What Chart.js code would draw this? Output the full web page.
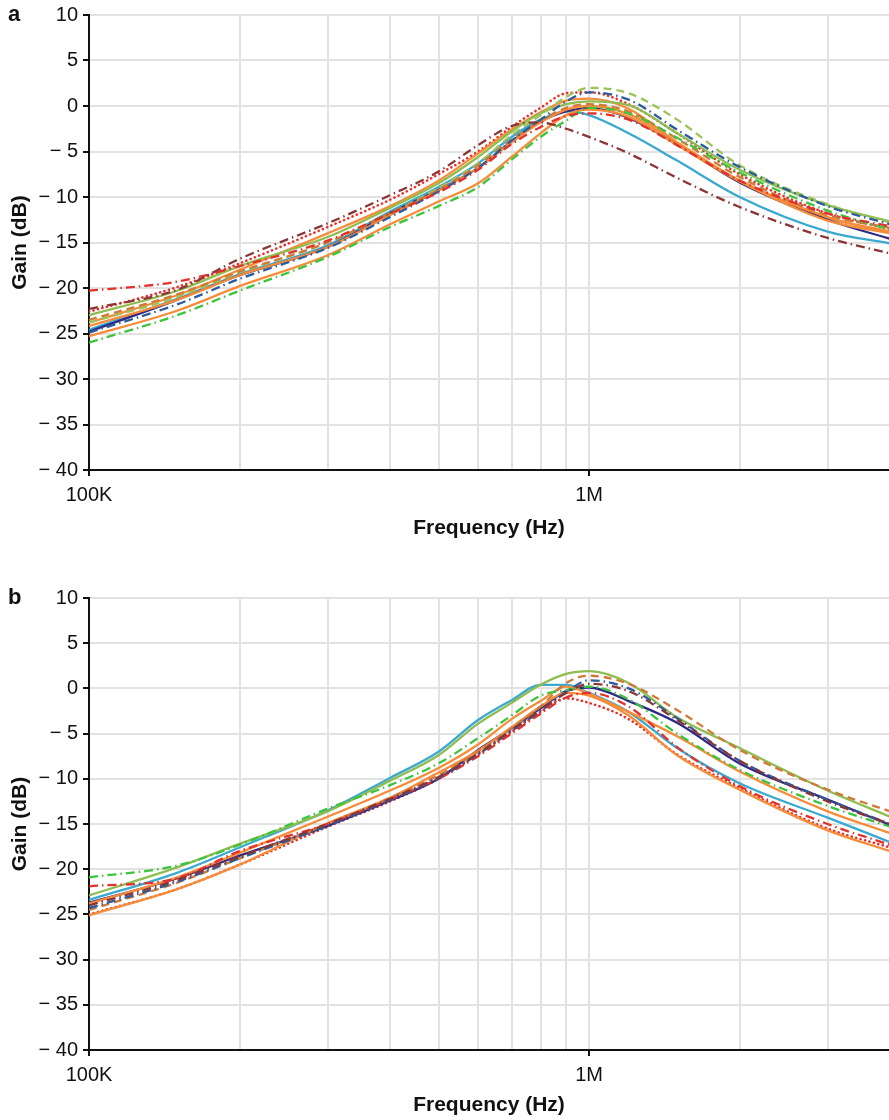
<!DOCTYPE html>
<html>
<head>
<meta charset="utf-8">
<script src="https://cdn.jsdelivr.net/npm/chart.js@4.4.0/dist/chart.umd.min.js"></script>
<style>
  body { margin: 0; background: #fff; }
  #wrap { position: relative; width: 889px; height: 1120px; }
  .panel { position: absolute; left: 0; }
  .tag { position: absolute; left: 8px; font: bold 22px "Liberation Sans", Arial, sans-serif; color: #111; }
</style>
</head>
<body>
<div id="wrap">
  <canvas id="chartA" class="panel" width="889" height="560" style="top:0px"></canvas>
  <canvas id="chartB" class="panel" width="889" height="537" style="top:583px"></canvas>
  <div class="tag" style="top:1px">a</div>
  <div class="tag" style="top:584px">b</div>
</div>
<script>
// frequency points (Hz), shared by every curve
const freqs = [1e5, 1.5e5, 2e5, 3e5, 4e5, 5e5, 6e5, 7e5, 8e5, 9e5, 1e6, 1.2e6, 1.5e6, 2e6, 3e6, 4e6];
const xGridTicks = [1e5, 2e5, 3e5, 4e5, 5e5, 6e5, 7e5, 8e5, 9e5, 1e6, 2e6, 3e6];
const xLabels = { 100000: "100K", 1000000: "1M" };
const yTicks = [10, 5, 0, -5, -10, -15, -20, -25, -30, -35, -40];

// panel a (gain in dB)
const aNavy        = [-24.8, -21.3, -18.6, -15.5, -11.8, -9.2, -6.8, -3.9, -1.7, -0.6, -0.2, -1.3, -4.2, -8.4, -12.5, -14.6];
const aLightBlue   = [-24.6, -21.2, -18.5, -15.3, -11.6, -8.9, -6.3, -3.4, -1.5, -0.6, -1.0, -3.0, -6.0, -10.0, -13.8, -15.1];
const aGreen       = [-23.0, -20.3, -17.6, -14.4, -11.2, -8.5, -5.6, -2.8, -0.8, 0.2, 0.5, 0.1, -3.0, -7.0, -10.9, -12.7];
const aGreenDash   = [-23.8, -21.0, -18.3, -15.0, -11.8, -9.0, -6.3, -3.2, -1.0, 1.0, 2.0, 1.4, -1.5, -6.5, -10.8, -12.8];
const aGreenDashDot= [-26.0, -23.0, -20.3, -16.6, -13.3, -11.0, -8.9, -5.9, -3.4, -1.6, -0.2, -0.8, -3.5, -7.3, -11.5, -13.6];
const aBlueDashDot = [-24.9, -21.8, -19.0, -15.6, -12.2, -9.4, -6.8, -3.8, -1.5, 0.5, 1.5, 0.7, -2.6, -6.7, -11.0, -13.0];
const aOrange1     = [-23.8, -20.8, -18.0, -14.0, -11.0, -8.2, -5.2, -2.6, -0.7, 0.6, 0.8, -0.3, -4.0, -8.2, -12.3, -13.8];
const aOrange2     = [-24.2, -21.3, -18.6, -15.5, -12.0, -9.3, -6.8, -4.0, -1.8, -0.4, 0.0, -0.9, -4.0, -8.2, -12.2, -13.9];
const aOrange3     = [-25.3, -22.5, -19.8, -16.4, -13.0, -10.5, -8.5, -5.6, -3.0, -1.0, -0.4, -1.2, -4.3, -8.3, -12.6, -14.0];
const aOrangeDash  = [-23.5, -20.7, -18.2, -15.0, -11.8, -9.2, -6.5, -3.7, -1.6, -0.2, 0.2, -0.6, -3.6, -7.8, -12.0, -13.4];
const aRedDot      = [-22.6, -19.9, -17.3, -13.3, -10.3, -7.5, -5.0, -2.3, -0.2, 1.4, 1.5, 0.2, -3.0, -7.5, -11.8, -13.5];
const aRedDashDot  = [-20.3, -19.3, -17.6, -14.8, -11.8, -9.5, -7.0, -4.2, -2.3, -1.1, -0.8, -1.5, -4.3, -8.2, -11.8, -13.2];
const aBrown       = [-22.3, -20.2, -16.8, -12.9, -9.8, -7.2, -4.3, -2.2, -1.8, -2.5, -3.4, -5.2, -7.9, -11.1, -14.5, -16.2];

// panel b (gain in dB)
const bNavy        = [-23.7, -21.0, -18.5, -15.2, -12.4, -10.0, -6.8, -4.4, -2.2, -0.3, 0.1, -1.4, -3.8, -8.3, -12.3, -15.1];
const bLightBlue   = [-23.4, -20.4, -17.6, -13.5, -9.9, -7.0, -3.5, -1.3, 0.4, 0.4, -0.5, -2.6, -6.6, -10.5, -14.3, -17.0];
const bGreen       = [-22.9, -19.8, -17.2, -13.6, -10.2, -7.4, -3.9, -1.6, 0.4, 1.6, 1.9, 0.6, -3.2, -6.6, -11.3, -14.2];
const bOrange1     = [-23.8, -20.9, -18.2, -14.2, -11.3, -8.8, -6.2, -3.4, -1.4, 0.2, -0.6, -2.6, -5.3, -9.2, -13.6, -16.0];
const bOrange2     = [-25.1, -22.2, -19.5, -14.9, -12.1, -9.3, -6.9, -4.3, -2.0, -0.5, -0.8, -3.0, -7.4, -11.2, -15.7, -18.0];
const bRedDot      = [-25.0, -22.2, -19.5, -15.3, -12.5, -10.0, -7.3, -4.8, -2.6, -1.1, -1.6, -3.4, -7.3, -11.0, -15.5, -17.6];
const bGreenDashDot= [-20.9, -19.6, -17.3, -13.3, -10.7, -8.3, -5.5, -3.0, -0.8, -0.2, 0.2, -1.2, -5.0, -9.0, -13.0, -15.3];
const bRedDashDot  = [-21.9, -21.0, -18.0, -15.0, -12.3, -10.0, -7.5, -5.0, -2.8, -1.0, -0.5, -2.0, -6.5, -10.8, -15.0, -17.3];
const bBrown       = [-24.0, -21.2, -18.6, -15.0, -12.2, -9.8, -7.2, -4.6, -2.4, -0.5, 0.5, -0.3, -3.5, -8.0, -12.5, -15.0];
const bBlueDashDot = [-24.3, -21.4, -18.8, -15.2, -12.3, -9.9, -7.3, -4.7, -2.5, -0.4, 0.9, 0.0, -3.3, -8.0, -12.3, -15.0];
const bOrangeDash  = [-24.5, -21.5, -18.8, -15.0, -12.1, -9.6, -7.0, -4.4, -2.0, 0.6, 1.4, 0.5, -2.4, -6.8, -11.2, -13.6];

const SOLID = [];
const DOT = [0.1, 4.5];
const DASHDOT = [9, 4, 1.5, 4];
const DASH = [8, 5];

function series(vals, color, dash) {
    return {
        data: freqs.map((f, i) => ({ x: f, y: vals[i] })),
        borderColor: color,
        borderWidth: dash === DOT ? 2.6 : 2.3,
        borderDash: dash,
        borderCapStyle: dash === DOT ? "round" : "butt",
        pointRadius: 0,
        cubicInterpolationMode: "monotone",
        fill: false
    };
}

const tickFont = { family: "'Liberation Sans', Arial, sans-serif", size: 20, lineHeight: 1 };
const titleFont = { family: "'Liberation Sans', Arial, sans-serif", size: 21, weight: "bold" };

function makeOptions(xHeight, titlePad) {
    return {
        responsive: false,
        animation: false,
        layout: { padding: { top: 15, right: 0, left: 0, bottom: 0 } },
        plugins: { legend: { display: false }, tooltip: { enabled: false } },
        scales: {
            x: {
                type: "logarithmic",
                min: 1e5,
                max: 3.98e6,
                afterBuildTicks: s => { s.ticks = xGridTicks.map(v => ({ value: v })); },
                afterFit: s => { s.height = xHeight; },
                ticks: {
                    autoSkip: false, maxRotation: 0, color: "#111", font: tickFont, padding: 9,
                    callback: v => xLabels[v] || ""
                },
                grid: {
                    color: "#e2e2e2", lineWidth: 2, tickLength: 6,
                    tickColor: c => (c.tick && xLabels[c.tick.value]) ? "#111" : "rgba(0,0,0,0)"
                },
                border: { color: "#111", width: 2 },
                title: { display: true, text: "Frequency (Hz)", color: "#111", font: titleFont, padding: { bottom: titlePad } }
            },
            y: {
                min: -40,
                max: 10,
                afterBuildTicks: s => { s.ticks = yTicks.map(v => ({ value: v })); },
                afterFit: s => { s.width = 89; },
                ticks: {
                    color: "#111", font: tickFont, padding: 5,
                    callback: v => v < 0 ? "\u2212 " + (-v) : String(v)
                },
                grid: { color: "#e2e2e2", lineWidth: 2, tickLength: 6, tickColor: "#111" },
                border: { color: "#111", width: 2 },
                title: { display: true, text: "Gain (dB)", color: "#111", font: titleFont, padding: { top: 8 } }
            }
        }
    };
}

new Chart(document.getElementById("chartA"), {
    type: "line",
    data: {
        datasets: [
            series(aBrown, "#8c3535", DASHDOT),
            series(aRedDashDot, "#e2302b", DASHDOT),
            series(aGreenDashDot, "#3cc43c", DASHDOT),
            series(aBlueDashDot, "#2b5c9e", DASHDOT),
            series(aOrangeDash, "#d07a3a", DASH),
            series(aGreenDash, "#9cc45a", DASH),
            series(aOrange3, "#f68c3a", SOLID),
            series(aOrange2, "#f68c3a", SOLID),
            series(aNavy, "#2d2a86", SOLID),
            series(aLightBlue, "#3aa9cf", SOLID),
            series(aGreen, "#8fbc4f", SOLID),
            series(aOrange1, "#f68c3a", SOLID),
            series(aRedDot, "#e8302a", DOT)
        ]
    },
    options: makeOptions(90, 19)
});

new Chart(document.getElementById("chartB"), {
    type: "line",
    data: {
        datasets: [
            series(bBrown, "#8c3535", DASHDOT),
            series(bBlueDashDot, "#2b5c9e", DASHDOT),
            series(bRedDashDot, "#e2302b", DASHDOT),
            series(bGreenDashDot, "#3cc43c", DASHDOT),
            series(bOrangeDash, "#d07a3a", DASH),
            series(bOrange2, "#f68c3a", SOLID),
            series(bOrange1, "#f68c3a", SOLID),
            series(bNavy, "#2d2a86", SOLID),
            series(bGreen, "#8fbc4f", SOLID),
            series(bLightBlue, "#3aa9cf", SOLID),
            series(bRedDot, "#e8302a", DOT)
        ]
    },
    options: makeOptions(70, 2)
});
</script>
</body>
</html>
